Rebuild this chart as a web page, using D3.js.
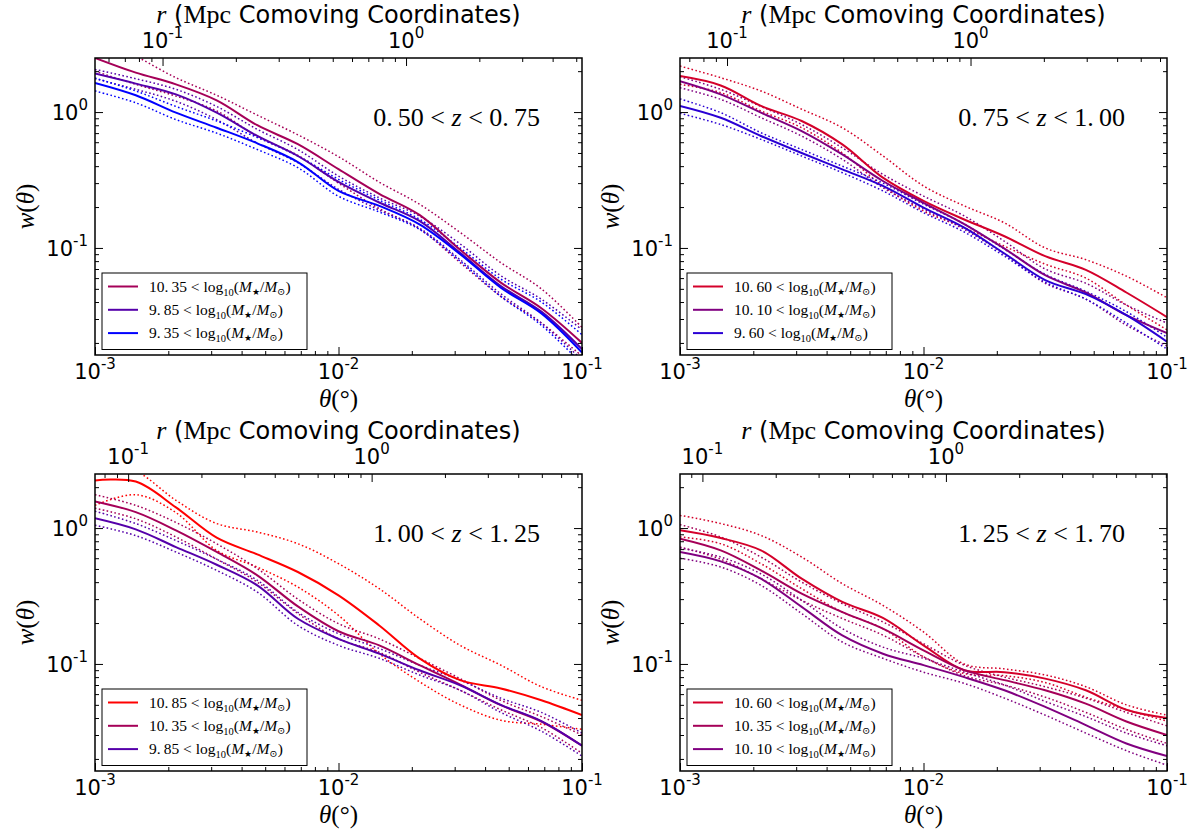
<!DOCTYPE html>
<html>
<head>
<meta charset="utf-8">
<script src="https://cdn.jsdelivr.net/npm/d3@7"></script>
<style>
  body { margin: 0; background: #fff; }
</style>
</head>
<body>
<div id="chart"></div>
<script>
// angular bins (degrees), 1/6 decade apart
var theta = [0.001, 0.00147, 0.00215, 0.00316, 0.00464, 0.00681, 0.01, 0.0147, 0.0215, 0.0316, 0.0464, 0.0681, 0.1];

// redshift bins and stellar mass thresholds per panel
var zBins = [[0.50, 0.75], [0.75, 1.00], [1.00, 1.25], [1.25, 1.70]];
var massBins = [[10.35, 9.85, 9.35], [10.60, 10.10, 9.60], [10.85, 10.35, 9.85], [10.60, 10.35, 10.10]];
// comoving r (Mpc) at theta = 1e-3 deg, per panel
var rAtThetaMin = [0.0528, 0.0641, 0.0731, 0.0809];

// panel 1: 0.50 < z < 0.75
var p1_1035 = [2.5, 1.95, 1.6, 1.22, 0.8, 0.58, 0.38, 0.25, 0.175, 0.097, 0.0556, 0.036, 0.020];
var p1_1035_hi = [3.6, 2.58, 1.79, 1.33, 0.95, 0.68, 0.47, 0.305, 0.21, 0.13, 0.078, 0.05, 0.026];
var p1_1035_lo = [2.0, 1.6, 1.31, 1.02, 0.66, 0.48, 0.3, 0.195, 0.138, 0.078, 0.044, 0.028, 0.016];
var p1_985 = [1.92, 1.62, 1.35, 0.99, 0.667, 0.475, 0.306, 0.216, 0.158, 0.092, 0.0525, 0.034, 0.018];
var p1_985_hi = [2.06, 1.76, 1.47, 1.1, 0.746, 0.53, 0.338, 0.234, 0.172, 0.107, 0.0625, 0.042, 0.025];
var p1_985_lo = [1.76, 1.47, 1.2, 0.88, 0.59, 0.424, 0.27, 0.19, 0.14, 0.082, 0.046, 0.028, 0.015];
var p1_935 = [1.64, 1.33, 0.99, 0.767, 0.589, 0.429, 0.263, 0.204, 0.149, 0.09, 0.051, 0.033, 0.017];
var p1_935_hi = [1.78, 1.43, 1.1, 0.86, 0.65, 0.475, 0.32, 0.225, 0.163, 0.1, 0.059, 0.04, 0.023];
var p1_935_lo = [1.43, 1.17, 0.88, 0.7, 0.53, 0.39, 0.24, 0.184, 0.137, 0.08, 0.044, 0.027, 0.014];

// panel 2: 0.75 < z < 1.00
var p2_1060 = [1.84, 1.57, 1.11, 0.86, 0.578, 0.329, 0.222, 0.162, 0.122, 0.087, 0.069, 0.047, 0.031];
var p2_1060_hi = [2.18, 1.79, 1.43, 1.05, 0.767, 0.476, 0.286, 0.204, 0.153, 0.1, 0.082, 0.062, 0.043];
var p2_1060_lo = [1.6, 1.39, 1.02, 0.767, 0.5, 0.286, 0.187, 0.141, 0.103, 0.076, 0.06, 0.038, 0.025];
var p2_1010 = [1.69, 1.35, 0.99, 0.725, 0.488, 0.311, 0.215, 0.150, 0.099, 0.063, 0.047, 0.032, 0.0236];
var p2_1010_hi = [1.82, 1.47, 1.1, 0.81, 0.546, 0.348, 0.241, 0.172, 0.112, 0.07, 0.055, 0.038, 0.028];
var p2_1010_lo = [1.51, 1.24, 0.91, 0.666, 0.449, 0.278, 0.193, 0.137, 0.09, 0.055, 0.042, 0.027, 0.019];
var p2_960 = [1.11, 0.908, 0.667, 0.50, 0.379, 0.286, 0.198, 0.141, 0.091, 0.058, 0.0457, 0.032, 0.0204];
var p2_960_hi = [1.25, 0.99, 0.705, 0.53, 0.40, 0.30, 0.21, 0.15, 0.098, 0.064, 0.048, 0.034, 0.022];
var p2_960_lo = [0.98, 0.81, 0.63, 0.475, 0.358, 0.263, 0.182, 0.131, 0.087, 0.056, 0.042, 0.028, 0.018];

// panel 3: 1.00 < z < 1.25
var p3_1085 = [2.24, 2.2, 1.42, 0.85, 0.64, 0.475, 0.32, 0.192, 0.11, 0.076, 0.066, 0.054, 0.042];
var p3_1085_hi = [3.3, 2.65, 1.6, 1.08, 0.935, 0.767, 0.547, 0.358, 0.216, 0.137, 0.098, 0.068, 0.054];
var p3_1085_lo = [1.47, 1.76, 1.3, 0.685, 0.516, 0.368, 0.228, 0.119, 0.074, 0.05, 0.0385, 0.036, 0.033];
var p3_1035 = [1.57, 1.31, 0.962, 0.667, 0.449, 0.265, 0.174, 0.137, 0.098, 0.0705, 0.0497, 0.0377, 0.025];
var p3_1035_hi = [1.76, 1.47, 1.1, 0.767, 0.503, 0.3, 0.198, 0.153, 0.11, 0.078, 0.054, 0.041, 0.03];
var p3_1035_lo = [1.4, 1.17, 0.86, 0.59, 0.40, 0.235, 0.153, 0.122, 0.087, 0.064, 0.046, 0.034, 0.022];
var p3_985 = [1.18, 0.978, 0.725, 0.537, 0.379, 0.215, 0.153, 0.119, 0.0898, 0.0697, 0.05, 0.038, 0.025];
var p3_985_hi = [1.33, 1.08, 0.81, 0.59, 0.413, 0.24, 0.167, 0.13, 0.098, 0.076, 0.056, 0.044, 0.031];
var p3_985_lo = [1.05, 0.88, 0.666, 0.488, 0.338, 0.192, 0.137, 0.11, 0.083, 0.064, 0.044, 0.032, 0.021];

// panel 4: 1.25 < z < 1.70
var p4_1060 = [0.962, 0.844, 0.685, 0.424, 0.286, 0.218, 0.137, 0.09, 0.087, 0.078, 0.064, 0.046, 0.04];
var p4_1060_hi = [1.24, 1.08, 0.883, 0.612, 0.39, 0.27, 0.172, 0.1, 0.092, 0.083, 0.068, 0.05, 0.042];
var p4_1060_lo = [0.86, 0.767, 0.547, 0.358, 0.241, 0.182, 0.113, 0.085, 0.082, 0.073, 0.057, 0.046, 0.038];
var p4_1035 = [0.835, 0.685, 0.488, 0.329, 0.241, 0.182, 0.126, 0.09, 0.076, 0.064, 0.051, 0.0377, 0.030];
var p4_1035_hi = [1.06, 0.86, 0.612, 0.40, 0.278, 0.204, 0.141, 0.098, 0.08, 0.068, 0.056, 0.044, 0.035];
var p4_1035_lo = [0.725, 0.59, 0.424, 0.294, 0.216, 0.163, 0.113, 0.082, 0.07, 0.057, 0.044, 0.033, 0.026];
var p4_1010 = [0.667, 0.569, 0.424, 0.263, 0.162, 0.119, 0.098, 0.08, 0.064, 0.0483, 0.0355, 0.026, 0.021];
var p4_1010_hi = [0.713, 0.612, 0.46, 0.294, 0.182, 0.133, 0.11, 0.087, 0.07, 0.053, 0.041, 0.031, 0.025];
var p4_1010_lo = [0.60, 0.517, 0.379, 0.235, 0.145, 0.11, 0.087, 0.072, 0.056, 0.042, 0.031, 0.023, 0.018];

var seriesData = [
  [[p1_1035, p1_1035_hi, p1_1035_lo], [p1_985, p1_985_hi, p1_985_lo], [p1_935, p1_935_hi, p1_935_lo]],
  [[p2_1060, p2_1060_hi, p2_1060_lo], [p2_1010, p2_1010_hi, p2_1010_lo], [p2_960, p2_960_hi, p2_960_lo]],
  [[p3_1085, p3_1085_hi, p3_1085_lo], [p3_1035, p3_1035_hi, p3_1035_lo], [p3_985, p3_985_hi, p3_985_lo]],
  [[p4_1060, p4_1060_hi, p4_1060_lo], [p4_1035, p4_1035_hi, p4_1035_lo], [p4_1010, p4_1010_hi, p4_1010_lo]]
];

// line colour by mass threshold
var massColor = {
  "9.35": "#0000ff", "9.60": "#2a00d4", "9.85": "#5500aa", "10.10": "#800080",
  "10.35": "#a50058", "10.60": "#d4002a", "10.85": "#ff0000"
};

var svgWidth = 1195, svgHeight = 837;
var width = 487, height = 297;
var panelPos = [[95, 58], [680, 58], [95, 474], [680, 474]];

var sans = "'DejaVu Sans', sans-serif";
var serif = "'Liberation Serif', 'DejaVu Serif', serif";

var svg = d3.select("#chart").append("svg")
  .attr("width", svgWidth)
  .attr("height", svgHeight);

function isMajor(v) {
  var l = Math.log10(v);
  return Math.abs(l - Math.round(l)) < 1e-6;
}

function tickGroup(g, axis, scale, values, size, transform) {
  g.append("g")
    .attr("transform", transform)
    .call(axis(scale).tickValues(values).tickSize(size).tickFormat(""))
    .call(function(a) { a.select(".domain").remove(); })
    .selectAll("line").attr("stroke", "#000").attr("stroke-width", 1);
}

function powText(sel, v) {
  var e = Math.round(Math.log10(v));
  sel.append("tspan").text("10");
  sel.append("tspan").attr("dy", -10).attr("font-size", 15).text(String(e));
}

function fmtNum(v) {
  return v.toFixed(2).replace(".", ".\u2009");
}

panelPos.forEach(function(pos, p) {
  var g = svg.append("g").attr("transform", `translate(${pos[0]}, ${pos[1]})`);

  var x = d3.scaleLog().domain([0.001, 0.1]).range([0, width]);
  var y = d3.scaleLog().domain([0.0163, 2.5]).range([height, 0]);
  var xTop = d3.scaleLog().domain([rAtThetaMin[p], rAtThetaMin[p] * 100]).range([0, width]);

  g.append("clipPath").attr("id", "clip" + p)
    .append("rect").attr("width", width).attr("height", height);

  var line = d3.line()
    .x(function(d, i) { return x(theta[i]); })
    .y(function(d) { return y(d); })
    .curve(d3.curveCatmullRom.alpha(0.5));

  var plot = g.append("g").attr("clip-path", `url(#clip${p})`);

  seriesData[p].forEach(function(s, k) {
    var col = massColor[massBins[p][k].toFixed(2)];
    [s[1], s[2]].forEach(function(band) {
      plot.append("path")
        .attr("d", line(band))
        .attr("fill", "none")
        .attr("stroke", col)
        .attr("stroke-width", 1.5)
        .attr("stroke-dasharray", "1.6,2.4");
    });
  });
  seriesData[p].forEach(function(s, k) {
    var col = massColor[massBins[p][k].toFixed(2)];
    plot.append("path")
      .attr("d", line(s[0]))
      .attr("fill", "none")
      .attr("stroke", col)
      .attr("stroke-width", 2);
  });

  // ticks (inward)
  var xt = x.ticks(), yt = y.ticks(), rt = xTop.ticks();
  tickGroup(g, d3.axisBottom, x, xt.filter(isMajor), -8, `translate(0, ${height})`);
  tickGroup(g, d3.axisBottom, x, xt.filter(function(v) { return !isMajor(v); }), -4, `translate(0, ${height})`);
  tickGroup(g, d3.axisTop, xTop, rt.filter(isMajor), -8, "translate(0, 0)");
  tickGroup(g, d3.axisTop, xTop, rt.filter(function(v) { return !isMajor(v); }), -4, "translate(0, 0)");
  tickGroup(g, d3.axisLeft, y, yt.filter(isMajor), -8, "translate(0, 0)");
  tickGroup(g, d3.axisLeft, y, yt.filter(function(v) { return !isMajor(v); }), -4, "translate(0, 0)");
  tickGroup(g, d3.axisRight, y, yt.filter(isMajor), -8, `translate(${width}, 0)`);
  tickGroup(g, d3.axisRight, y, yt.filter(function(v) { return !isMajor(v); }), -4, `translate(${width}, 0)`);

  // frame
  g.append("rect")
    .attr("width", width).attr("height", height)
    .attr("fill", "none").attr("stroke", "#000").attr("stroke-width", 1.5);

  // tick labels
  xt.filter(isMajor).forEach(function(v) {
    var t = g.append("text").attr("x", x(v)).attr("y", height + 24)
      .attr("text-anchor", "middle").attr("font-family", sans).attr("font-size", 21);
    powText(t, v);
  });
  rt.filter(isMajor).forEach(function(v) {
    var t = g.append("text").attr("x", xTop(v)).attr("y", -10)
      .attr("text-anchor", "middle").attr("font-family", sans).attr("font-size", 21);
    powText(t, v);
  });
  yt.filter(isMajor).forEach(function(v) {
    var t = g.append("text").attr("x", -7).attr("y", y(v) + 8)
      .attr("text-anchor", "end").attr("font-family", sans).attr("font-size", 21);
    powText(t, v);
  });

  // axis titles
  var top = g.append("text").attr("x", width / 2).attr("y", -35)
    .attr("text-anchor", "middle").attr("font-family", sans).attr("font-size", 24);
  top.append("tspan").attr("font-family", serif).attr("font-style", "italic").attr("font-size", 26).text("r");
  top.append("tspan").text(" (");
  top.append("tspan").attr("font-family", serif).attr("font-size", 26).text("Mpc");
  top.append("tspan").text(" Comoving Coordinates)");

  var xl = g.append("text").attr("x", width / 2).attr("y", height + 52)
    .attr("text-anchor", "middle").attr("font-family", serif).attr("font-size", 25);
  xl.append("tspan").attr("font-style", "italic").text("\u03b8");
  xl.append("tspan").text("(\u00b0)");

  var yl = g.append("text")
    .attr("transform", `translate(-61, ${height / 2}) rotate(-90)`)
    .attr("text-anchor", "middle").attr("font-family", serif).attr("font-size", 25);
  yl.append("tspan").attr("font-style", "italic").text("w");
  yl.append("tspan").text("(");
  yl.append("tspan").attr("font-style", "italic").text("\u03b8");
  yl.append("tspan").text(")");

  // redshift label
  var zl = g.append("text").attr("x", width - 42).attr("y", 68)
    .attr("text-anchor", "end").attr("font-family", serif).attr("font-size", 26);
  zl.append("tspan").text(fmtNum(zBins[p][0]) + "\u2005<\u2005");
  zl.append("tspan").attr("font-style", "italic").text("z");
  zl.append("tspan").text("\u2005<\u2005" + fmtNum(zBins[p][1]));

  // legend
  var lg = g.append("g").attr("transform", `translate(7, ${height - 82})`);
  lg.append("rect").attr("width", 205).attr("height", 76.5)
    .attr("fill", "#fff").attr("stroke", "#000").attr("stroke-width", 1);
  massBins[p].forEach(function(m, k) {
    var yy = 13.5 + k * 23.3;
    lg.append("line").attr("x1", 6).attr("x2", 36).attr("y1", yy).attr("y2", yy)
      .attr("stroke", massColor[m.toFixed(2)]).attr("stroke-width", 2);
    var t = lg.append("text").attr("x", 47).attr("y", yy + 5)
      .attr("font-family", serif).attr("font-size", 15.5);
    t.append("tspan").text(fmtNum(m) + "\u2005<\u2005log");
    t.append("tspan").attr("dy", 4).attr("font-size", 10.5).text("10");
    t.append("tspan").attr("dy", -4).text("(");
    t.append("tspan").attr("font-style", "italic").text("M");
    t.append("tspan").attr("dy", 3).attr("font-size", 9).text("\u2605");
    t.append("tspan").attr("dy", -3).text("/");
    t.append("tspan").attr("font-style", "italic").text("M");
    t.append("tspan").attr("dy", 3).attr("font-size", 10).text("\u2299");
    t.append("tspan").attr("dy", -3).text(")");
  });
});
</script>
</body>
</html>
